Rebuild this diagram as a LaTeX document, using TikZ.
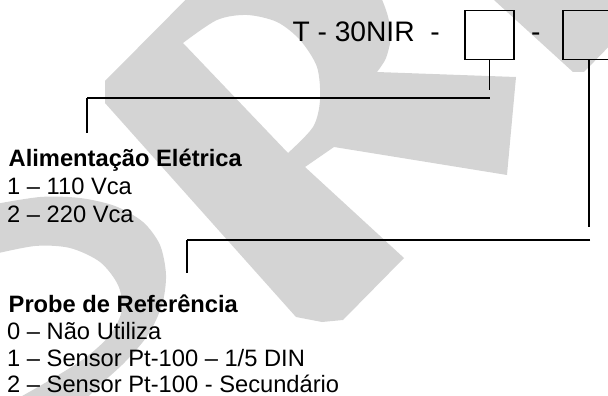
\documentclass[tikz,border=0pt]{standalone}
\usepackage{fontspec}
\setmainfont{Liberation Sans}
\definecolor{wm}{RGB}{212,212,212}
\begin{document}
\begin{tikzpicture}[x=1pt,y=-1pt,
  lbl/.style={anchor=base west, inner sep=0pt, font=\fontsize{23.7}{28}\selectfont},
  ttl/.style={anchor=base west, inner sep=0pt, font=\fontsize{23.7}{28}\selectfont\bfseries},
  code/.style={anchor=base west, inner sep=0pt, font=\fontsize{28.2}{32}\selectfont},
  slot/.style={draw, line width=1.1pt, minimum width=49pt, minimum height=48.6pt, inner sep=0pt},
  conn/.style={line width=1.7pt},
  wmark/.style={fill=wm, even odd rule}]
\useasboundingbox (0,0) rectangle (608,396);
\begin{scope}
\clip (0,0) rectangle (608,396);
% watermark letter (centre)
\path[wmark] (105,81) -- (235,-50) -- (345,-50)
  -- plot[smooth] coordinates {(345,-50) (372,-20) (386,10) (391,35) (386,58) (377,72)}
  -- (516,77) -- (507,175) -- (334,147) -- (305,167) -- (404,258) -- (343,320)
  -- (322,322) -- (296,317) -- (105,103) -- cycle
  (183,43) -- (288,153)
  -- plot[smooth] coordinates {(288,153) (313,127) (320,100) (317,67) (300,40) (277,22) (247,15) (217,20) (183,43)} -- cycle;
% watermark letter (bottom left)
\path[wmark] (-10,205)
  -- plot[smooth] coordinates {(-10,205) (40,197) (80,198) (115,206) (143,222) (160,245) (166,275) (162,305) (148,335) (125,362) (100,385) (80,405)}
  -- (-10,405) -- cycle
  (-10,255)
  -- plot[smooth] coordinates {(-10,255) (35,246) (70,248) (100,262) (118,285) (122,310) (110,335) (85,358) (50,380) (15,400)}
  -- (-10,400) -- cycle;
% watermark letter (top right)
\path[wmark] (483,-10) -- (573,72) -- (584,72) -- (625,30) -- (625,-10) -- cycle;
\end{scope}
% code line
\node[code] (code) at (292.3,41.7) {T - 30NIR\ \ -};
\node[slot] (box1) at (489.5,35) {};
\node[code] (dash2) at (531,41.7) {-};
\node[slot] (box2) at (587.5,35) {};
% connector 1
\coordinate (v1end) at (489.5,90.5);
\coordinate (h1r) at (489.5,97.7);
\coordinate (h1l) at (87,97.7);
\coordinate (t1) at (87,133);
\draw[line width=1.3pt] (box1.south) -- (v1end);
\draw[conn] (h1r) -- (h1l);
\draw[line width=1.3pt] (h1l) -- (t1);
% connector 2
\coordinate (v2end) at (589,227);
\coordinate (h2r) at (590,239.7);
\coordinate (h2l) at (187,239.7);
\coordinate (t2) at (187,273);
\draw[line width=1.3pt] (box2.south -| v2end) -- (v2end);
\draw[conn] (h2r) -- (h2l);
\draw[line width=1.3pt] (h2l) -- (t2);
% texts block 1
\node[ttl] (alim) at (8.5,166.5) {Alimentação Elétrica};
\node[lbl] (a1) at (7,194.5) {1 – 110 Vca};
\node[lbl] (a2) at (7,222.5) {2 – 220 Vca};
% texts block 2
\node[ttl] (probe) at (8.5,312) {Probe de Referência};
\node[lbl] (p0) at (7,339.5) {0 – Não Utiliza};
\node[lbl] (p1) at (7,366) {1 – Sensor Pt-100 – 1/5 DIN};
\node[lbl, text depth=0pt] (p2) at (7,392) {2 – Sensor Pt-100 - Secundário};
\end{tikzpicture}
\end{document}
